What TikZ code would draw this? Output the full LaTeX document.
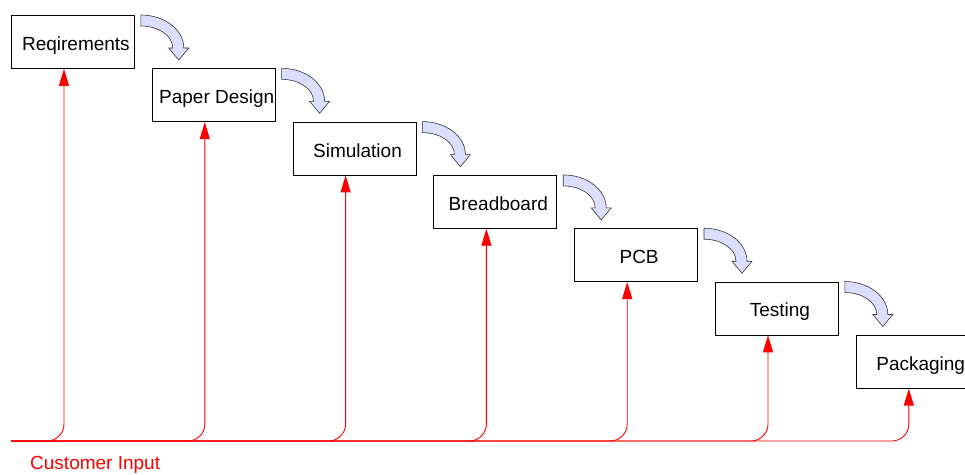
\documentclass[tikz,border=0pt]{standalone}
\usepackage{fontspec}
\setmainfont{Liberation Sans}
\usetikzlibrary{arrows.meta}
\definecolor{flowblue}{RGB}{220,222,255}
\begin{document}
\begin{tikzpicture}[x=1pt,y=-1pt,
  stepbox/.style={draw=black,line width=0.8pt,minimum width=123pt,minimum height=53pt,inner sep=0pt,text height=17pt,text depth=0pt,anchor=north west,font=\fontsize{19}{22}\selectfont},
  feed/.style={draw=red,line width=0.9pt,rounded corners=17pt,-{Triangle[width=10pt,length=17pt]}},
  flow/.style={draw=black!80,line width=0.6pt,fill=flowblue}]
\useasboundingbox (0,0) rectangle (965,474);
\foreach \t [count=\i] in {Reqirements,Paper Design,Simulation,Breadboard,PCB,Testing,Packaging}
  \node[stepbox] (b\i) at ({11+(\i-1)*140.8},{15+(\i-1)*53.3}) {\hspace*{6pt}\t};
% blue flow arrows
\foreach \i in {1,...,6}
  \path[flow,shift={(b\i.north east)}]
    (6,0) .. controls (29.7,0) and (49,14.8) .. (49,33)
    -- (54,33) -- (44,45) -- (34,33) -- (38,33)
    .. controls (38,20.8) and (23.7,11) .. (6,11) -- cycle;
% customer input feedback
\coordinate (s) at (11,441);
\foreach \i in {1,...,7} {
  \coordinate (a\i) at ([xshift=53pt]b\i.south west);
  \draw[feed] (s) -- (a\i |- s) -- (a\i);
}
\node[anchor=base west,text=red,inner sep=0pt,font=\fontsize{19}{22}\selectfont] (ci) at (30,469) {Customer Input};
\end{tikzpicture}
\end{document}
